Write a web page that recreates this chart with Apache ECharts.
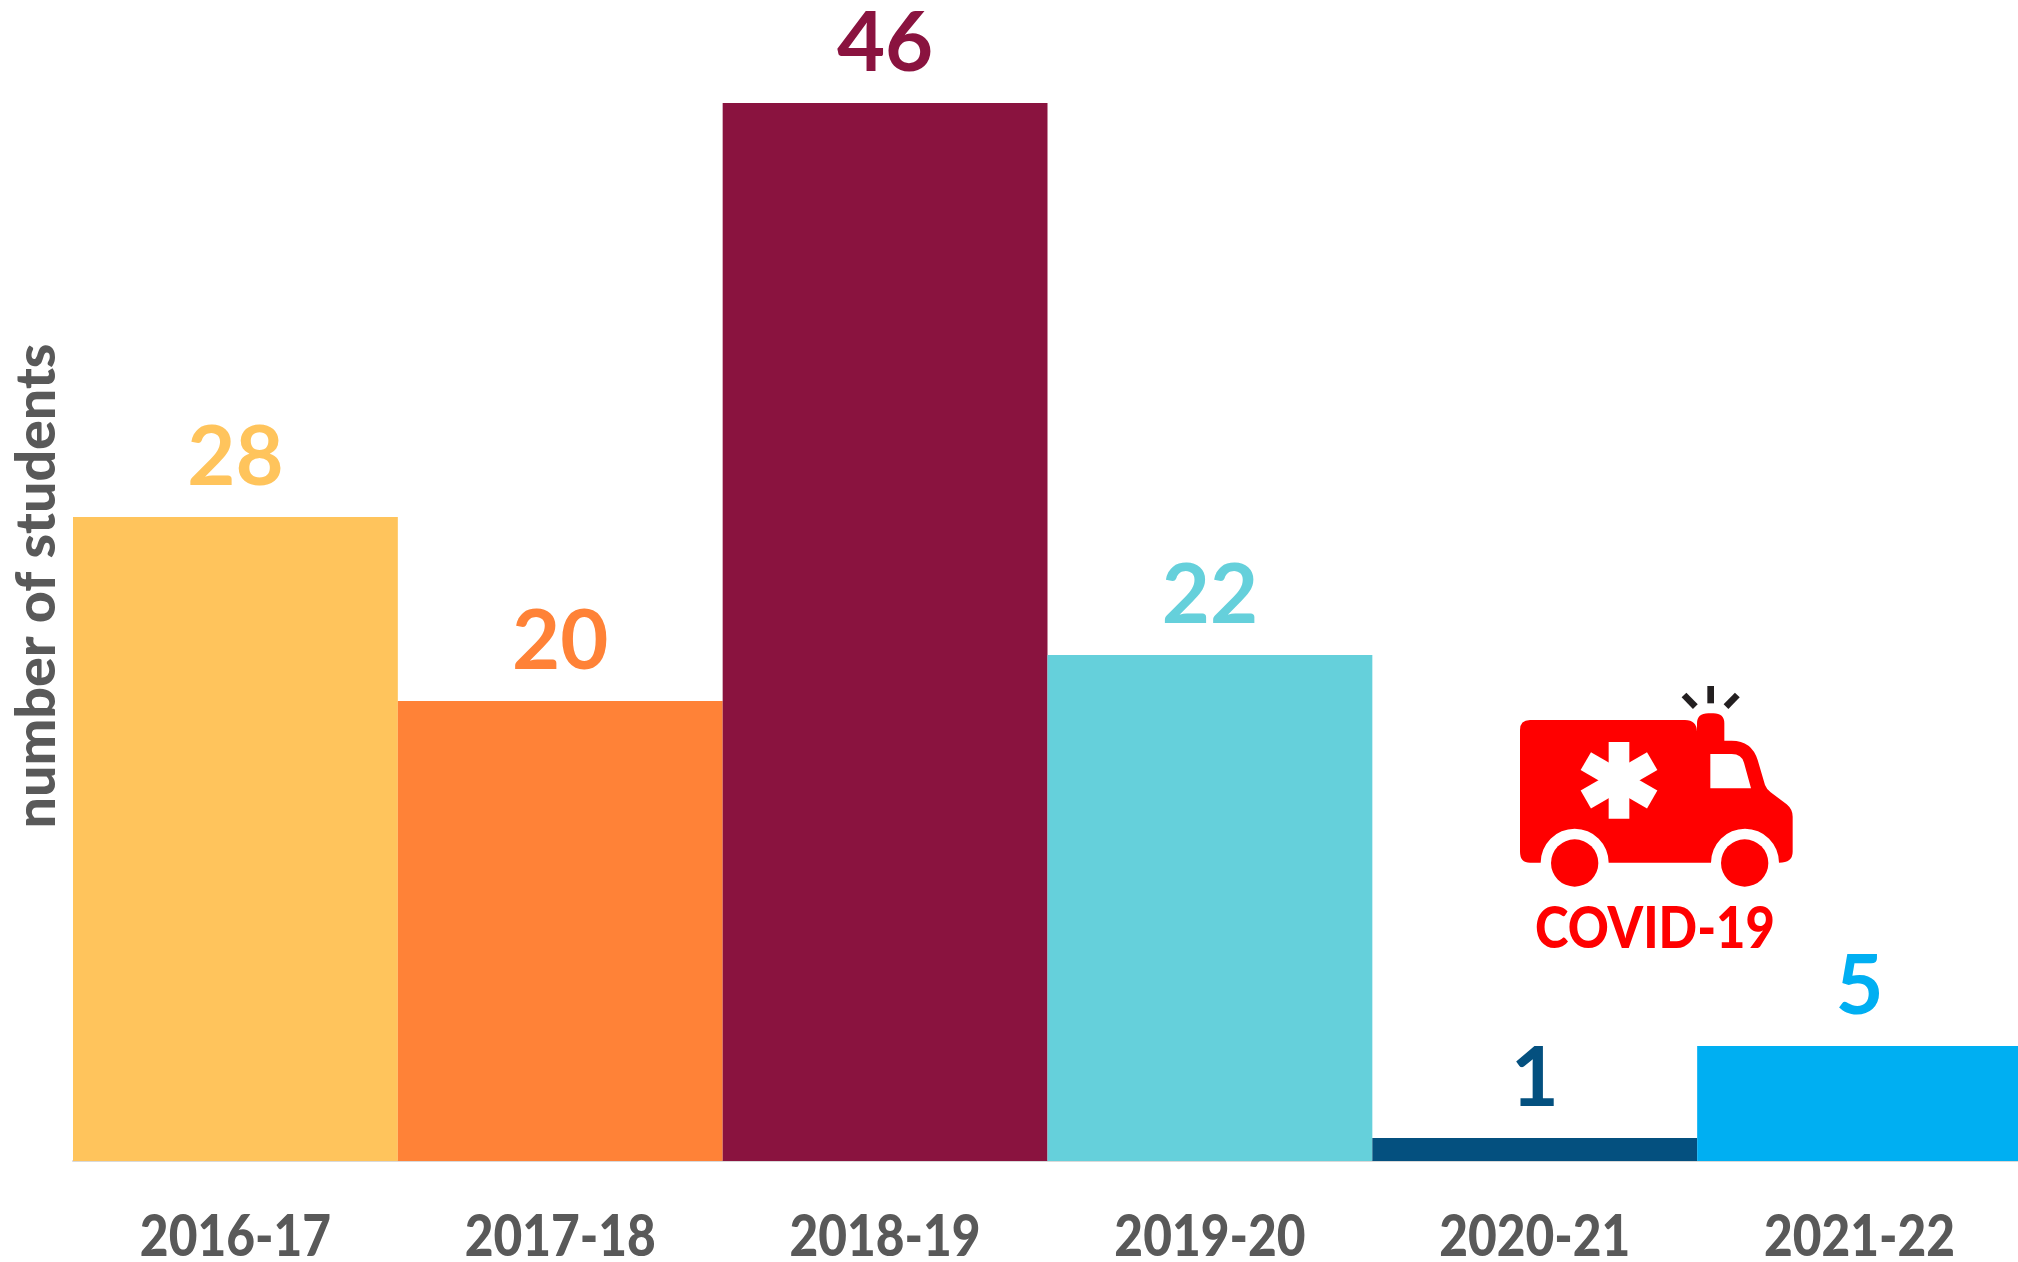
<!DOCTYPE html>
<html><head><meta charset="utf-8">
<style>html,body{margin:0;padding:0;background:#fff}#c{width:2018px;height:1262px}</style>
<script src="https://cdn.jsdelivr.net/npm/echarts@6/dist/echarts.min.js"></script>
</head><body><div id="c"></div>
<script>
const categories = ['2016-17','2017-18','2018-19','2019-20','2020-21','2021-22'];
const students = [28,20,46,22,1,5];
const barColors = ['#FFC45C','#FF8237','#8A133F','#65D0DB','#04507F','#00AFF2'];
const axisTitle = 'number of students';
const badgeText = 'COVID-19';
const grey = '#595959', red = '#FF0000', dark = '#231F20';

echarts.graphic.registerShape('ambBody', echarts.graphic.extendPath('M150 150H615Q650 150 651 185V160Q651 130 685 130H700Q733 130 733 160V212H755Q815 212 833 270L855 345Q860 358 872 367L920 403Q938 418 938 440V545Q938 578 897 578A102 102 0 0 0 693 578H386A102 102 0 0 0 182 578H150Q120 578 120 545V180Q120 150 150 150Z',{}));
echarts.graphic.registerShape('ambWindow', echarts.graphic.extendPath('M691 252H755Q785 252 792 278L813 355H691Z',{}));

const chart = echarts.init(document.getElementById('c'), null, {renderer:'canvas'});
const asterArm = a => ({type:'rect', x:417, y:331, originX:0, originY:0, rotation:a*Math.PI/180,
  shape:{x:-31,y:-115,width:62,height:230}, style:{fill:'#fff'}});
const beam = (x1,y1,x2,y2) => ({type:'line', shape:{x1,y1,x2,y2}, style:{stroke:dark,lineWidth:20}});
chart.setOption({
  animation:false,
  backgroundColor:'#fff',
  grid:{left:73,top:11,width:1949,height:1150,outerBoundsMode:'none'},
  xAxis:{type:'category',data:categories,
    axisLine:{show:true,lineStyle:{color:'#D9D9D9',width:2}},
    axisTick:{show:false},
    axisLabel:{show:false}},
  yAxis:{type:'value',min:0,max:50,interval:10,
    splitLine:{show:false},axisLine:{show:false},axisTick:{show:false},axisLabel:{show:false},
    name:axisTitle,nameLocation:'middle',nameRotate:90,nameGap:8,
    nameTextStyle:{color:grey,fontFamily:'Lato',fontWeight:900,fontSize:55.5}},
  series:[
    {type:'bar',barWidth:'100%',barCategoryGap:0,
      data:students.map((v,i)=>({value:v,itemStyle:{color:barColors[i]},label:{color:barColors[i]}})),
      label:{show:true,position:'top',distance:17,fontFamily:'Lato',fontWeight:'bold',fontSize:83}},
    {type:'custom',silent:true,clip:false,data:categories.map((c,i)=>[i,0]),
      encode:{x:0,y:1},
      renderItem:(params,api)=>{
        const p = api.coord([api.value(0),0]);
        return {type:'text',x:p[0],y:p[1]+77,scaleX:0.87,
          style:{text:categories[params.dataIndex],fill:grey,font:'900 57px Lato',textAlign:'center',textVerticalAlign:'middle'}};
      }}
  ],
  graphic:[
    {type:'group',x:1480,y:670,scaleX:1/3,scaleY:1/3,children:[
      {type:'ambBody',style:{fill:red}},
      {type:'ambWindow',style:{fill:'#fff'}},
      asterArm(0),asterArm(60),asterArm(-60),
      {type:'circle',shape:{cx:284,cy:579,r:71},style:{fill:red}},
      {type:'circle',shape:{cx:794,cy:579,r:71},style:{fill:red}},
      beam(692,48,692,100),beam(612,75,646,110),beam(772,75,738,110)
    ]},
    {type:'text',x:1655,y:930,scaleX:0.89,style:{text:badgeText,fill:red,font:'900 57px Lato',textAlign:'center',textVerticalAlign:'middle'}}
  ]
});
</script></body></html>
